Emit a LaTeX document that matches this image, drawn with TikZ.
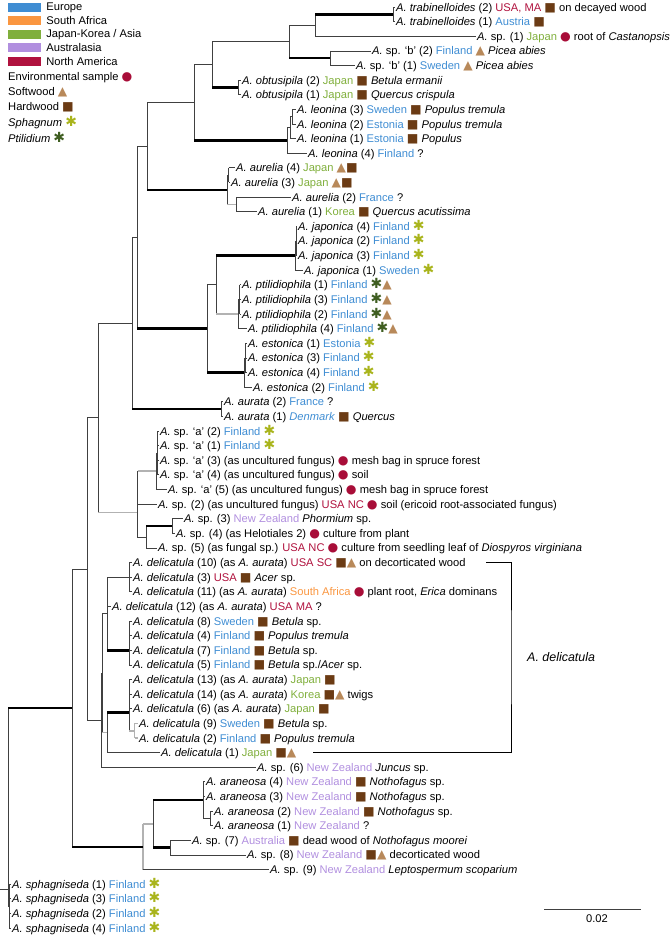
\documentclass[tikz,border=0pt]{standalone}
\usepackage{fontspec}
\setmainfont{Liberation Sans}
\newfontfamily\symfont{DejaVu Sans}
\usepackage{tikz}
\usetikzlibrary{positioning}
\usepackage{xcolor}
\definecolor{euBlue}{HTML}{3F8DD3}
\definecolor{saOrange}{HTML}{FA9640}
\definecolor{asGreen}{HTML}{80AF3C}
\definecolor{auLilac}{HTML}{B18FDF}
\definecolor{naRed}{HTML}{B0123E}
\definecolor{envRed}{HTML}{A80D38}
\definecolor{softTan}{HTML}{B8895A}
\definecolor{hardBrown}{HTML}{6B3B14}
\definecolor{sphGreen}{HTML}{A9B41C}
\definecolor{ptiGreen}{HTML}{3F5E21}
\newcommand{\cEU}[1]{\textcolor{euBlue}{#1}}
\newcommand{\cSA}[1]{\textcolor{saOrange}{#1}}
\newcommand{\cAS}[1]{\textcolor{asGreen}{#1}}
\newcommand{\cAU}[1]{\textcolor{auLilac}{#1}}
\newcommand{\cNA}[1]{\textcolor{naRed}{#1}}
\newcommand{\symsize}{\fontsize{12.3}{13}\selectfont}
\newcommand{\sEnv}{{\symfont\symsize\textcolor{envRed}{●}}}
\newcommand{\sSoft}{{\symfont\symsize\textcolor{softTan}{▲}}}
\newcommand{\sHard}{{\symfont\symsize\textcolor{hardBrown}{■}}}
\newcommand{\sSph}{{\symfont\fontsize{14}{13}\selectfont\textcolor{sphGreen}{✱}}}
\newcommand{\sPti}{{\symfont\fontsize{14}{13}\selectfont\textcolor{ptiGreen}{✱}}}

\begin{document}
\begin{tikzpicture}[x=1bp, y=-1bp,
    leafLabel/.style={anchor=west, inner xsep=1bp, inner ysep=0pt, text height=8bp, text depth=0pt, font=\fontsize{11.2}{13}\selectfont},
    legendBar/.style={rectangle, minimum width=33bp, minimum height=9bp, inner sep=0pt},
    legendText/.style={anchor=west, inner sep=0pt, font=\fontsize{11.2}{13}\selectfont},
    vLine/.style={draw=black!75, line width=0.8bp},
    thinBranch/.style={draw=black!75, line width=0.8bp},
    thickBranch/.style={draw=black, line width=2.4bp},
    grayBranch/.style={draw=black!30, line width=1.6bp}
]
    \useasboundingbox (0,0) rectangle (672,935);

    \node[legendBar, fill=euBlue] (euBar) at (24.5,7.5) {};
    \node[legendBar, fill=saOrange, below=4bp of euBar] (saBar) {};
    \node[legendBar, fill=asGreen, below=4bp of saBar] (asBar) {};
    \node[legendBar, fill=auLilac, below=4bp of asBar] (auBar) {};
    \node[legendBar, fill=naRed, below=4bp of auBar] (naBar) {};
    \node[legendText, right=5bp of euBar] (euKey) {Europe};
    \node[legendText, right=5bp of saBar] (saKey) {South Africa};
    \node[legendText, right=5bp of asBar] (asKey) {Japan-Korea / Asia};
    \node[legendText, right=5bp of auBar] (auKey) {Australasia};
    \node[legendText, right=5bp of naBar] (naKey) {North America};
    \node[legendText] (envKey) at (8,78) {Environmental sample \sEnv};
    \node[legendText] (softKey) at (8,92.5) {Softwood \sSoft};
    \node[legendText] (hardKey) at (8,107) {Hardwood \sHard};
    \node[legendText] (sphKey) at (8,122.5) {\textit{Sphagnum} \sSph};
    \node[legendText] (ptiKey) at (8,137) {\textit{Ptilidium} \sPti};

    \node[leafLabel] (l1) at (395,7.0) {\textit{A. trabinelloides} (2) \cNA{USA, MA} \sHard{} on decayed wood};
    \node[leafLabel] (l2) at (395,21.6) {\textit{A. trabinelloides} (1) \cEU{Austria} \sHard};
    \node[leafLabel] (l3) at (476,36.2) {\textit{A.} sp. (1) \cAS{Japan} \sEnv{} root of \textit{Castanopsis}};
    \node[leafLabel] (l4) at (371,50.9) {\textit{A.} sp. ‘b’ (2) \cEU{Finland} \sSoft{} \textit{Picea abies}};
    \node[leafLabel] (l5) at (355,65.5) {\textit{A.} sp. ‘b’ (1) \cEU{Sweden} \sSoft{} \textit{Picea abies}};
    \node[leafLabel] (l6) at (241,80.1) {\textit{A. obtusipila} (2) \cAS{Japan} \sHard{} \textit{Betula ermanii}};
    \node[leafLabel] (l7) at (241,94.7) {\textit{A. obtusipila} (1) \cAS{Japan} \sHard{} \textit{Quercus crispula}};
    \node[leafLabel] (l8) at (296,109.3) {\textit{A. leonina} (3) \cEU{Sweden} \sHard{} \textit{Populus tremula}};
    \node[leafLabel] (l9) at (296,124.0) {\textit{A. leonina} (2) \cEU{Estonia} \sHard{} \textit{Populus tremula}};
    \node[leafLabel] (l10) at (296,138.6) {\textit{A. leonina} (1) \cEU{Estonia} \sHard{} \textit{Populus}};
    \node[leafLabel] (l11) at (307,153.2) {\textit{A. leonina} (4) \cEU{Finland} ?};
    \node[leafLabel] (l12) at (235,167.8) {\textit{A. aurelia} (4) \cAS{Japan} \sSoft\sHard};
    \node[leafLabel] (l13) at (230,182.4) {\textit{A. aurelia} (3) \cAS{Japan} \sSoft\sHard};
    \node[leafLabel] (l14) at (291,197.1) {\textit{A. aurelia} (2) \cEU{France} ?};
    \node[leafLabel] (l15) at (257,211.7) {\textit{A. aurelia} (1) \cAS{Korea} \sHard{} \textit{Quercus acutissima}};
    \node[leafLabel] (l16) at (297,226.3) {\textit{A. japonica} (4) \cEU{Finland} \sSph};
    \node[leafLabel] (l17) at (297,240.9) {\textit{A. japonica} (2) \cEU{Finland} \sSph};
    \node[leafLabel] (l18) at (297,255.5) {\textit{A. japonica} (3) \cEU{Finland} \sSph};
    \node[leafLabel] (l19) at (303,270.2) {\textit{A. japonica} (1) \cEU{Sweden} \sSph};
    \node[leafLabel] (l20) at (241,284.8) {\textit{A. ptilidiophila} (1) \cEU{Finland} \sPti\sSoft};
    \node[leafLabel] (l21) at (241,299.4) {\textit{A. ptilidiophila} (3) \cEU{Finland} \sPti\sSoft};
    \node[leafLabel] (l22) at (241,314.0) {\textit{A. ptilidiophila} (2) \cEU{Finland} \sPti\sSoft};
    \node[leafLabel] (l23) at (247,328.6) {\textit{A. ptilidiophila} (4) \cEU{Finland} \sPti\sSoft};
    \node[leafLabel] (l24) at (247,343.3) {\textit{A. estonica} (1) \cEU{Estonia} \sSph};
    \node[leafLabel] (l25) at (247,357.9) {\textit{A. estonica} (3) \cEU{Finland} \sSph};
    \node[leafLabel] (l26) at (247,372.5) {\textit{A. estonica} (4) \cEU{Finland} \sSph};
    \node[leafLabel] (l27) at (252,387.1) {\textit{A. estonica} (2) \cEU{Finland} \sSph};
    \node[leafLabel] (l28) at (223,401.7) {\textit{A. aurata} (2) \cEU{France} ?};
    \node[leafLabel] (l29) at (223,416.4) {\textit{A. aurata} (1) \cEU{\textit{Denmark}} \sHard{} \textit{Quercus}};
    \node[leafLabel] (l30) at (159,431.0) {\textit{A.} sp. ‘a’ (2) \cEU{Finland} \sSph};
    \node[leafLabel] (l31) at (159,445.6) {\textit{A.} sp. ‘a’ (1) \cEU{Finland} \sSph};
    \node[leafLabel] (l32) at (159,460.2) {\textit{A.} sp. ‘a’ (3) (as uncultured fungus) \sEnv{} mesh bag in spruce forest};
    \node[leafLabel] (l33) at (159,474.8) {\textit{A.} sp. ‘a’ (4) (as uncultured fungus) \sEnv{} soil};
    \node[leafLabel] (l34) at (167,489.5) {\textit{A.} sp. ‘a’ (5) (as uncultured fungus) \sEnv{} mesh bag in spruce forest};
    \node[leafLabel] (l35) at (157,504.1) {\textit{A.} sp. (2) (as uncultured fungus) \cNA{USA NC} \sEnv{} soil (ericoid root-associated fungus)};
    \node[leafLabel] (l36) at (183,518.7) {\textit{A.} sp. (3) \cAU{New Zealand} \textit{Phormium} sp.};
    \node[leafLabel] (l37) at (175,533.3) {\textit{A.} sp. (4) (as Helotiales 2) \sEnv{} culture from plant};
    \node[leafLabel] (l38) at (157,547.9) {\textit{A.} sp. (5) (as fungal sp.) \cNA{USA NC} \sEnv{} culture from seedling leaf of \textit{Diospyros virginiana}};
    \node[leafLabel] (l39) at (132,562.6) {\textit{A. delicatula} (10) (as \textit{A. aurata}) \cNA{USA SC} \sHard\sSoft{} on decorticated wood};
    \node[leafLabel] (l40) at (132,577.2) {\textit{A. delicatula} (3) \cNA{USA} \sHard{} \textit{Acer} sp.};
    \node[leafLabel] (l41) at (132,591.8) {\textit{A. delicatula} (11) (as \textit{A. aurata}) \cSA{South Africa} \sEnv{} plant root, \textit{Erica} dominans};
    \node[leafLabel] (l42) at (111,606.4) {\textit{A. delicatula} (12) (as \textit{A. aurata}) \cNA{USA MA} ?};
    \node[leafLabel] (l43) at (132,621.0) {\textit{A. delicatula} (8) \cEU{Sweden} \sHard{} \textit{Betula} sp.};
    \node[leafLabel] (l44) at (132,635.7) {\textit{A. delicatula} (4) \cEU{Finland} \sHard{} \textit{Populus tremula}};
    \node[leafLabel] (l45) at (132,650.3) {\textit{A. delicatula} (7) \cEU{Finland} \sHard{} \textit{Betula} sp.};
    \node[leafLabel] (l46) at (132,664.9) {\textit{A. delicatula} (5) \cEU{Finland} \sHard{} \textit{Betula} sp./\textit{Acer} sp.};
    \node[leafLabel] (l47) at (132,679.5) {\textit{A. delicatula} (13) (as \textit{A. aurata}) \cAS{Japan} \sHard};
    \node[leafLabel] (l48) at (132,694.1) {\textit{A. delicatula} (14) (as \textit{A. aurata}) \cAS{Korea} \sHard\sSoft{} twigs};
    \node[leafLabel] (l49) at (132,708.8) {\textit{A. delicatula} (6) (as \textit{A. aurata}) \cAS{Japan} \sHard};
    \node[leafLabel] (l50) at (138,723.4) {\textit{A. delicatula} (9) \cEU{Sweden} \sHard{} \textit{Betula} sp.};
    \node[leafLabel] (l51) at (138,738.0) {\textit{A. delicatula} (2) \cEU{Finland} \sHard{} \textit{Populus tremula}};
    \node[leafLabel] (l52) at (160,752.6) {\textit{A. delicatula} (1) \cAS{Japan} \sHard\sSoft};
    \node[leafLabel] (l53) at (256,767.2) {\textit{A.} sp. (6) \cAU{New Zealand} \textit{Juncus} sp.};
    \node[leafLabel] (l54) at (205,781.8) {\textit{A. araneosa} (4) \cAU{New Zealand} \sHard{} \textit{Nothofagus} sp.};
    \node[leafLabel] (l55) at (205,796.5) {\textit{A. araneosa} (3) \cAU{New Zealand} \sHard{} \textit{Nothofagus} sp.};
    \node[leafLabel] (l56) at (213,811.1) {\textit{A. araneosa} (2) \cAU{New Zealand} \sHard{} \textit{Nothofagus} sp.};
    \node[leafLabel] (l57) at (213,825.7) {\textit{A. araneosa} (1) \cAU{New Zealand} ?};
    \node[leafLabel] (l58) at (191,840.3) {\textit{A.} sp. (7) \cAU{Australia} \sHard{} dead wood of \textit{Nothofagus moorei}};
    \node[leafLabel] (l59) at (246,854.9) {\textit{A.} sp. (8) \cAU{New Zealand} \sHard\sSoft{} decorticated wood};
    \node[leafLabel] (l60) at (269,869.6) {\textit{A.} sp. (9) \cAU{New Zealand} \textit{Leptospermum scoparium}};
    \node[leafLabel] (l61) at (11,884.2) {\textit{A. sphagniseda} (1) \cEU{Finland} \sSph};
    \node[leafLabel] (l62) at (11,898.8) {\textit{A. sphagniseda} (3) \cEU{Finland} \sSph};
    \node[leafLabel] (l63) at (11,913.4) {\textit{A. sphagniseda} (2) \cEU{Finland} \sSph};
    \node[leafLabel] (l64) at (11,928.0) {\textit{A. sphagniseda} (4) \cEU{Finland} \sSph};

    \coordinate (nTrab) at (393,14.3);
    \coordinate (nA) at (315,25.3);
    \coordinate (nB) at (330,58.2);
    \coordinate (nC) at (289,41.8);
    \coordinate (nObt) at (238,87.4);
    \coordinate (nD) at (212,64.6);
    \coordinate (nLeoA) at (292,116.7);
    \coordinate (nLeoB) at (290,127.6);
    \coordinate (nLeo) at (287,140.4);
    \coordinate (nE) at (194,102.5);
    \coordinate (nAurA) at (228.5,175.1);
    \coordinate (nAurB) at (236,204.4);
    \coordinate (nAur) at (227,189.8);
    \coordinate (nF) at (147,146.1);
    \coordinate (nJapA) at (296,240.9);
    \coordinate (nJap) at (295,255.6);
    \coordinate (nPtiA) at (239.5,299.4);
    \coordinate (nPti) at (238,314.0);
    \coordinate (nG) at (216,284.8);
    \coordinate (nEstA) at (245.5,357.9);
    \coordinate (nEst) at (244,372.5);
    \coordinate (nH) at (207,328.6);
    \coordinate (nI) at (137,237.4);
    \coordinate (nAurata) at (221,409.0);
    \coordinate (nJ) at (132,323.2);
    \coordinate (nSpaA) at (157.5,452.9);
    \coordinate (nSpa) at (156,471.2);
    \coordinate (nSpB) at (172,526.0);
    \coordinate (nK) at (146,537.0);
    \coordinate (nLa) at (137.5,487.6);
    \coordinate (nL) at (137,512.3);
    \coordinate (nM) at (98,417.8);
    \coordinate (nDa) at (129,577.2);
    \coordinate (nDb) at (129,650.3);
    \coordinate (nDn) at (107,613.7);
    \coordinate (nDcB) at (134.5,730.7);
    \coordinate (nDc) at (129,712.4);
    \coordinate (nDd) at (107,732.5);
    \coordinate (nN) at (102,673.1);
    \coordinate (nO) at (101,720.2);
    \coordinate (nP) at (87,569.0);
    \coordinate (nAraA) at (210,818.4);
    \coordinate (nAra) at (203,800.1);
    \coordinate (nSpC) at (170,847.6);
    \coordinate (nQ) at (153,823.9);
    \coordinate (nR) at (143,846.7);
    \coordinate (nS) at (72,707.9);
    \coordinate (nSph) at (9,906.1);
    \coordinate (nRoot) at (8,889.0);
    \coordinate (rootStub) at (0,889.0);

    \foreach \n/\a/\b/\s in {nTrab/l1.west/l2.west/vLine, nA/nTrab/l3.west/vLine, nB/l4.west/l5.west/vLine,
        nC/nA/nB/vLine, nObt/l6.west/l7.west/vLine, nD/nC/nObt/vLine, nLeoA/l8.west/l9.west/vLine,
        nLeoB/nLeoA/l10.west/vLine, nLeo/nLeoB/l11.west/vLine, nE/nD/nLeo/vLine, nAurA/l12.west/l13.west/vLine,
        nAurB/l14.west/l15.west/vLine, nAur/nAurA/nAurB/vLine, nF/nE/nAur/vLine, nJapA/l16.west/l18.west/vLine,
        nJap/nJapA/l19.west/vLine, nPtiA/l20.west/l22.west/vLine, nPti/nPtiA/l23.west/vLine, nG/nJap/nPti/vLine,
        nEstA/l24.west/l26.west/vLine, nEst/nEstA/l27.west/vLine, nH/nG/nEst/vLine, nI/nF/nH/vLine,
        nAurata/l28.west/l29.west/vLine, nJ/nI/nAurata/vLine, nSpaA/l30.west/l33.west/vLine,
        nSpa/nSpaA/l34.west/vLine, nLa/nSpa/l35.west/vLine, nSpB/l36.west/l37.west/vLine, nK/nSpB/l38.west/vLine,
        nL/nLa/nK/vLine, nM/nJ/nL/vLine, nDa/l39.west/l41.west/vLine, nDb/l43.west/l46.west/vLine,
        nDn/nDa/nDb/vLine, nDcB/l50.west/l51.west/grayBranch, nDc/l47.west/nDcB/vLine, nDd/nDc/l52.west/vLine,
        nN/nDn/nDd/vLine, nO/nN/l53.west/vLine, nP/nM/nO/vLine, nAraA/l56.west/l57.west/vLine,
        nAra/l54.west/nAraA/vLine, nSpC/l58.west/l59.west/vLine, nQ/nAra/nSpC/vLine, nR/nQ/l60.west/grayBranch,
        nS/nP/nR/vLine, nSph/l61.west/l64.west/vLine, nRoot/nS/nSph/vLine}
        \draw[\s] (\n |- \a) -- (\n |- \b);

    \foreach \n/\c/\s in {nTrab/l1.west/thinBranch, nTrab/l2.west/thinBranch, nA/nTrab/thickBranch,
        nA/l3.west/thinBranch, nB/l4.west/thinBranch, nB/l5.west/thinBranch, nC/nA/thinBranch, nC/nB/thickBranch,
        nObt/l6.west/thinBranch, nObt/l7.west/thinBranch, nD/nC/thinBranch, nD/nObt/thickBranch,
        nLeoA/l8.west/thinBranch, nLeoA/l9.west/thinBranch, nLeoB/nLeoA/thinBranch, nLeoB/l10.west/thinBranch,
        nLeo/nLeoB/thinBranch, nLeo/l11.west/thinBranch, nE/nD/thinBranch, nE/nLeo/thickBranch,
        nAurA/l12.west/thinBranch, nAurA/l13.west/thinBranch, nAurB/l14.west/thinBranch, nAurB/l15.west/thinBranch,
        nAur/nAurA/thinBranch, nAur/nAurB/grayBranch, nF/nE/thinBranch, nF/nAur/thickBranch,
        nJapA/l16.west/thinBranch, nJapA/l17.west/thinBranch, nJapA/l18.west/thinBranch, nJap/nJapA/thinBranch,
        nJap/l19.west/thinBranch, nPtiA/l20.west/thinBranch, nPtiA/l21.west/thinBranch, nPtiA/l22.west/thinBranch,
        nPti/nPtiA/thinBranch, nPti/l23.west/thinBranch, nG/nJap/thickBranch, nG/nPti/grayBranch,
        nEstA/l24.west/thinBranch, nEstA/l25.west/thinBranch, nEstA/l26.west/thinBranch, nEst/nEstA/thinBranch,
        nEst/l27.west/thinBranch, nH/nG/thinBranch, nH/nEst/thickBranch, nI/nF/thinBranch, nI/nH/thickBranch,
        nAurata/l28.west/thinBranch, nAurata/l29.west/thinBranch, nJ/nI/thinBranch, nJ/nAurata/thickBranch,
        nSpaA/l30.west/thinBranch, nSpaA/l31.west/thinBranch, nSpaA/l32.west/thinBranch, nSpaA/l33.west/thinBranch,
        nSpa/nSpaA/thinBranch, nSpa/l34.west/thinBranch, nLa/nSpa/grayBranch, nLa/l35.west/thinBranch,
        nSpB/l36.west/thinBranch, nSpB/l37.west/thinBranch, nK/nSpB/thickBranch, nK/l38.west/thinBranch,
        nL/nLa/thinBranch, nL/nK/thinBranch, nM/nJ/thinBranch, nM/nL/grayBranch,
        nDa/l39.west/thinBranch, nDa/l40.west/thinBranch, nDa/l41.west/thinBranch,
        nDb/l43.west/thinBranch, nDb/l44.west/thinBranch, nDb/l45.west/thinBranch, nDb/l46.west/thinBranch,
        nDn/nDa/thinBranch, nDn/l42.west/thinBranch, nDn/nDb/thickBranch,
        nDcB/l50.west/grayBranch, nDcB/l51.west/grayBranch, nDc/l47.west/thinBranch, nDc/l48.west/thinBranch,
        nDc/l49.west/thinBranch, nDc/nDcB/grayBranch, nDd/nDc/thickBranch, nDd/l52.west/thinBranch,
        nN/nDn/thinBranch, nN/nDd/grayBranch, nO/nN/thinBranch, nO/l53.west/thinBranch,
        nP/nM/thinBranch, nP/nO/thinBranch, nAraA/l56.west/thinBranch, nAraA/l57.west/thinBranch,
        nAra/l54.west/thinBranch, nAra/l55.west/thinBranch, nAra/nAraA/thinBranch,
        nSpC/l58.west/thinBranch, nSpC/l59.west/thinBranch, nQ/nAra/thickBranch, nQ/nSpC/thickBranch,
        nR/nQ/grayBranch, nR/l60.west/thinBranch, nS/nP/thinBranch, nS/nR/thickBranch,
        nSph/l61.west/thinBranch, nSph/l62.west/thinBranch, nSph/l63.west/thinBranch, nSph/l64.west/thinBranch,
        nRoot/nS/thickBranch, nRoot/nSph/thinBranch}
        \draw[\s] (\n |- \c) -- (\c);
    \draw[thinBranch] (rootStub) -- (nRoot);

    \node[anchor=west, inner sep=0pt, font=\fontsize{12.5}{14}\selectfont\itshape] (delLabel) at (527,657) {A. delicatula};
    \coordinate (brTop) at (486,562.6);
    \coordinate (brBot) at (313,752.6);
    \draw[thinBranch, draw=black] (brTop) -| ([xshift=-16bp]delLabel.west) |- (brBot);

    \coordinate (scaleL) at (544,909);
    \coordinate (scaleR) at (641,909);
    \draw[thinBranch] (scaleL) -- (scaleR);
    \node[inner sep=0pt, font=\fontsize{11.2}{13}\selectfont] (scaleTxt) at (597,919) {0.02};
\end{tikzpicture}
\end{document}
